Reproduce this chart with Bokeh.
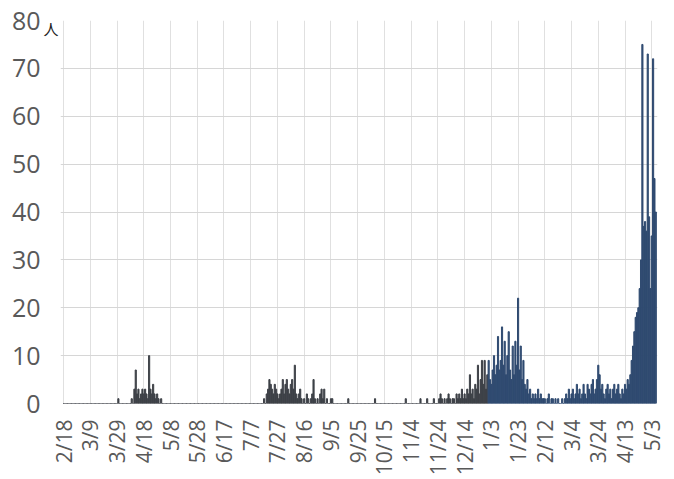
import math
from bokeh.plotting import figure
from bokeh.models import FixedTicker, Range1d, LinearAxis
from bokeh.embed import file_html
from bokeh.resources import INLINE

# Tick labels every 20 days starting 2020-02-18 (day 0)
tick_labels = ["2/18", "3/9", "3/29", "4/18", "5/8", "5/28", "6/17", "7/7",
               "7/27", "8/16", "9/5", "9/25", "10/15", "11/4", "11/24",
               "12/14", "1/3", "1/23", "2/12", "3/4", "3/24", "4/13", "5/3"]
tick_days = [0, 20, 40, 60, 80, 100, 120, 140, 160, 180, 200, 220, 240,
             260, 280, 300, 320, 340, 360, 380, 400, 420, 440]
y_ticks = [0, 10, 20, 30, 40, 50, 60, 70, 80]
unit_text = "人"

# Daily counts, 2020-02-18 .. 2020-12-31
feb_apr_2020 = [0] * 41 + [1] + [0] * 9 + [
    1, 0, 3, 7, 2, 3, 1, 2, 3, 2, 3, 2, 1, 10, 3, 2, 4, 2, 1, 2, 1, 0, 1, 0]
may_jul_2020 = [0] * 75
jul_sep_2020 = [1, 0, 2, 3, 5, 4, 3, 2, 4, 3, 2, 1, 2, 3, 5, 2, 4, 5, 3, 2,
                4, 5, 3, 8, 2, 1, 2, 3, 1, 0, 1, 0, 2, 1, 0, 1, 2, 5, 1, 0,
                1, 0, 2, 3, 1, 3, 0, 1, 0, 0, 1, 1, 0, 0, 0, 0, 0, 0, 0, 0,
                0, 0, 0, 1]
sep_nov_2020 = [0, 0, 0, 0, 0, 0, 0, 0, 0, 0, 0, 0, 0, 0, 0, 0, 0, 0, 0, 1,
                0, 0, 0, 0, 0, 0, 0, 0, 0, 0, 0, 0, 0, 0, 0, 0, 0, 0, 0, 0,
                0, 0, 1, 0, 0, 0, 0, 0, 0, 0, 0, 0, 0, 1, 0, 0, 0, 0, 1, 0,
                0, 0, 0, 1, 0, 0]
nov_dec_2020 = [0, 1, 2, 1, 0, 1, 0, 1, 2, 1, 0, 1, 1, 0, 2, 1, 2, 1, 3, 1,
                2, 1, 3, 2, 6, 2, 3, 1, 4, 3, 8, 2, 5, 9, 4, 9, 3, 6]
counts_2020 = feb_apr_2020 + may_jul_2020 + jul_sep_2020 + sep_nov_2020 + nov_dec_2020

# Daily counts, 2021-01-01 .. 2021-05-06
jan_2021 = [9, 5, 4, 7, 10, 6, 8, 14, 7, 9, 16, 8, 13, 6, 10, 15, 7, 5, 12, 6,
            13, 8, 22, 7, 12, 5, 9, 4, 3, 5, 2, 3, 1, 2, 1, 2, 1, 3, 1, 2, 1, 1]
feb_apr_2021 = [1, 0, 1, 2, 0, 1, 1, 0, 1, 0, 1, 0, 0, 1, 0, 1, 2, 1, 3, 1,
                2, 3, 1, 2, 4, 2, 3, 1, 2, 4, 2, 1, 4, 3, 2, 4, 5, 2, 3, 5,
                8, 6, 3, 4, 2, 1, 3, 4, 2, 3, 1, 3, 4, 2, 3, 4, 2, 1, 3, 2]
apr_may_2021 = [4, 3, 5, 4, 6, 9, 12, 15, 18, 19, 20, 24, 30, 75, 37, 38, 36,
                73, 39, 24, 35, 72, 47, 40]
counts_2021 = jan_2021 + feb_apr_2021 + apr_may_2021

days_2020 = list(range(len(counts_2020)))
days_2021 = list(range(len(counts_2020), len(counts_2020) + len(counts_2021)))

p = figure(width=670, height=478, output_backend="svg", toolbar_location=None,
           x_range=Range1d(-2.3, 444.3), y_range=Range1d(0, 80),
           min_border_left=60, min_border_right=13, min_border_top=20,
           min_border_bottom=74)
p.outline_line_color = None
p.background_fill_color = "white"

p.vbar(x=days_2020, top=counts_2020, width=0.85, color="#3d4047")
p.vbar(x=days_2021, top=counts_2021, width=0.85, color="#2f4a70")

font = "Open Sans"


def plain(ax):
    ax.axis_line_color = None
    ax.major_tick_line_color = None
    ax.minor_tick_line_color = None
    ax.major_tick_out = 0
    ax.major_tick_in = 0
    ax.minor_tick_out = 0
    ax.minor_tick_in = 0


# inner left axis: only the unit mark next to the top value
unit_pos = 78.3
ua = p.yaxis[0]
plain(ua)
ua.ticker = FixedTicker(ticks=[unit_pos])
ua.major_label_overrides = {unit_pos: unit_text}
ua.major_label_text_font = "Noto Sans CJK JP"
ua.major_label_text_font_size = "15px"
ua.major_label_text_color = "#222222"
ua.major_label_standoff = 2

# outer left axis: numbers
ya = LinearAxis(ticker=FixedTicker(ticks=y_ticks))
plain(ya)
ya.major_label_text_font = font
ya.major_label_text_font_size = "25px"
ya.major_label_text_color = "#595959"
ya.major_label_standoff = 0
p.add_layout(ya, "left")

# x axis
xa = p.xaxis[0]
plain(xa)
xa.ticker = FixedTicker(ticks=tick_days)
xa.major_label_overrides = {d: s for d, s in zip(tick_days, tick_labels)}
xa.major_label_orientation = math.pi / 2
xa.major_label_text_font = font
xa.major_label_text_font_size = "21px"
xa.major_label_text_color = "#595959"
xa.major_label_standoff = 16

p.ygrid.ticker = FixedTicker(ticks=y_ticks)
p.ygrid.grid_line_color = "#d6d6d6"
p.xgrid.grid_line_color = "#e0e0e0"

open("out.html", "w").write(file_html(p, INLINE))
